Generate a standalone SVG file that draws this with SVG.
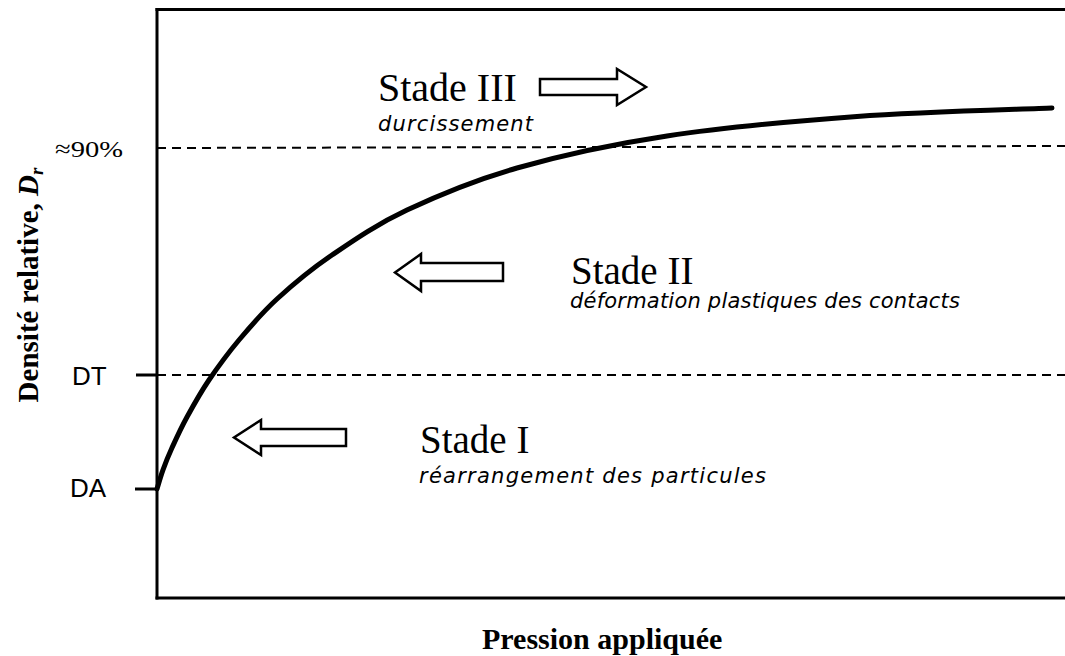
<svg xmlns="http://www.w3.org/2000/svg" width="1065" height="656" viewBox="0 0 1065 656">
<style>
.axis{stroke:#000;stroke-width:3;fill:none;stroke-linecap:square}
.dash{stroke:#000;stroke-width:2;fill:none;stroke-dasharray:9 6}
.tick{stroke:#000;stroke-width:3;fill:none}
.curve{stroke:#000;stroke-width:5;fill:none;stroke-linecap:round;stroke-linejoin:round}
.arrow{stroke:#000;stroke-width:2.5;fill:#fff;stroke-linejoin:miter}
.stade{font-family:"Liberation Serif","Times New Roman",serif;font-size:39px;fill:#000}
.desc{font-family:"DejaVu Sans","Liberation Sans",sans-serif;font-style:italic;font-size:21px;fill:#000}
.lbl{font-family:"Liberation Sans",Arial,sans-serif;font-size:26px;fill:#000}
.title{font-family:"Liberation Serif","Times New Roman",serif;font-weight:bold;fill:#000}
</style>
<rect width="1065" height="656" fill="#fff"/>
<g id="axes">
<line class="axis" x1="157" y1="9.5" x2="1065" y2="9.5"/>
<line class="axis" x1="157" y1="9.5" x2="157" y2="598"/>
<line class="axis" x1="157" y1="598" x2="1065" y2="598"/>
<line class="tick" x1="136" y1="375" x2="157" y2="375"/>
<line class="tick" x1="135" y1="489" x2="157" y2="489"/>
</g>
<g id="connectors">
<line class="dash" x1="157" y1="148" x2="1065" y2="146"/>
<line class="dash" x1="157" y1="375" x2="1065" y2="375"/>
<path class="curve" d="M157,489 C158,485.8 160.5,476.8 163,469.9 C165.5,463 168,456.6 172,447.8 C176,439 180.8,428.3 187,417 C193.2,405.7 200.3,392.8 209,380 C217.7,367.2 227.7,353.5 239,340 C250.3,326.5 261.5,313.2 277,299 C292.5,284.8 310.3,269.8 332,255 C353.7,240.2 376.2,224.5 407,210 C437.8,195.5 473.7,180.3 517,168 C560.3,155.7 610.3,144.6 667,136 C723.7,127.4 792.8,121.2 857,116.5 C921.2,111.8 1019.5,109.4 1052,108"/>
</g>
<g id="labels-y">
<text x="55" y="157" textLength="68" lengthAdjust="spacingAndGlyphs" style="font-family:'Liberation Serif','Times New Roman',serif;font-size:24px;fill:#000">≈90%</text>
<text class="lbl" x="72" y="385">DT</text>
<text class="lbl" x="70" y="497">DA</text>
<text class="title" font-size="29" text-anchor="middle" transform="translate(38,285) rotate(-90)">Densité relative, <tspan font-style="italic">D</tspan><tspan font-style="italic" font-size="19" dy="5">r</tspan></text>
<text class="title" font-size="30" x="482" y="649">Pression appliquée</text>
</g>
<g id="stade3">
<text class="stade" x="378" y="101" style="font-size:40px">Stade III</text>
<text class="desc" x="378" y="131" textLength="155" lengthAdjust="spacing">durcissement</text>
<polygon class="arrow" points="540,79 617,79 617,69 646,87 617,105 617,95 540,95"/>
</g>
<g id="stade2">
<text class="stade" x="571" y="284">Stade II</text>
<text class="desc" x="570" y="308" textLength="390" lengthAdjust="spacing">déformation plastiques des contacts</text>
<polygon class="arrow" points="503,263 421,263 421,254 395,272.5 421,291 421,281 503,281"/>
</g>
<g id="stade1">
<text class="stade" x="420" y="453">Stade I</text>
<text class="desc" x="419" y="483" textLength="347" lengthAdjust="spacing">réarrangement des particules</text>
<polygon class="arrow" points="346,429 261,429 261,420 234,437.5 261,455 261,446 346,446"/>
</g>
</svg>
